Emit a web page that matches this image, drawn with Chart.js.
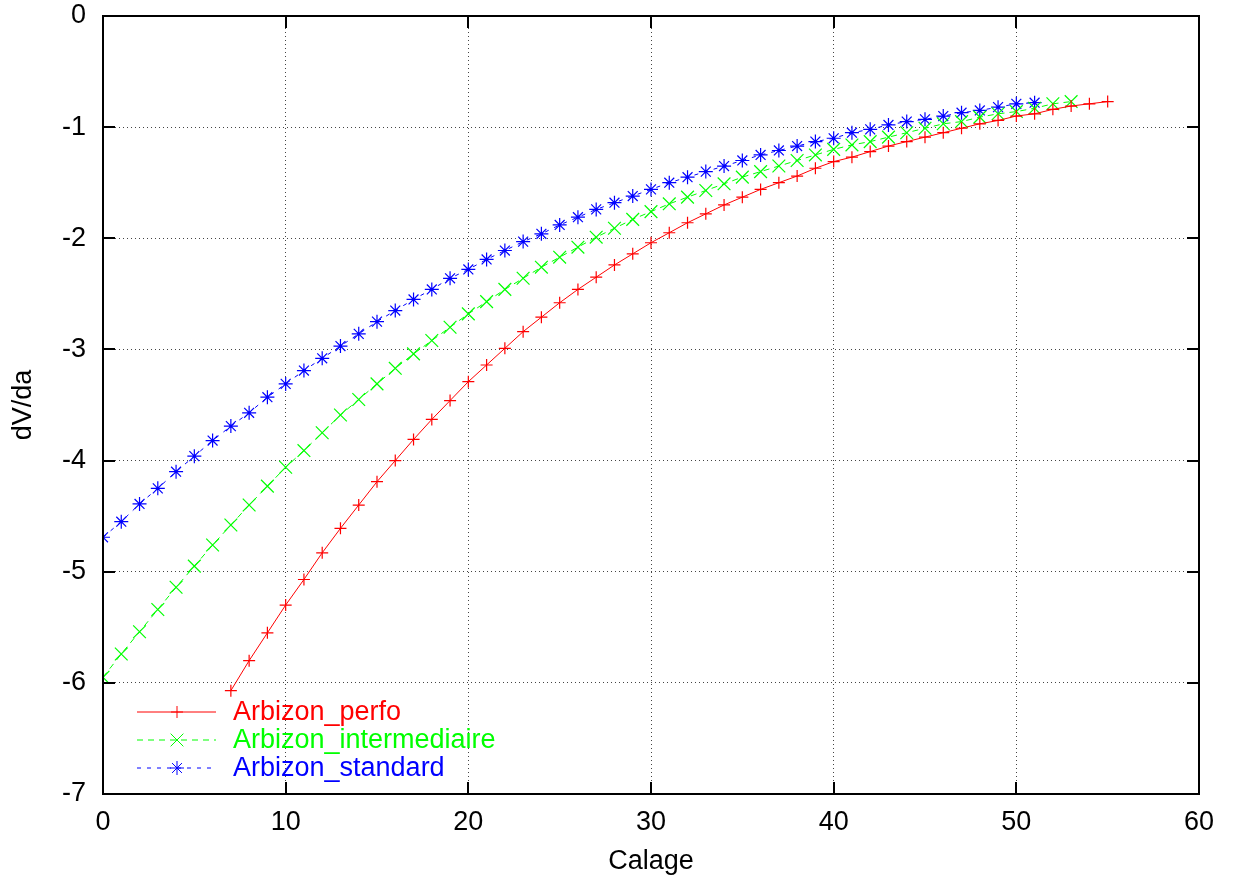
<!DOCTYPE html>
<html>
<head>
<meta charset="utf-8">
<title>dV/da</title>
<script src="https://cdn.jsdelivr.net/npm/chart.js@4/dist/chart.umd.min.js"></script>
<style>
  html, body { margin: 0; padding: 0; background: #fff; }
  canvas { display: block; }
</style>
</head>
<body>
<canvas id="chart" width="1236" height="885"></canvas>
<script>
// Calage values (x) shared by the three curves
const calage = [0, 1, 2, 3, 4, 5, 6, 7, 8, 9, 10, 11, 12, 13, 14, 15, 16, 17, 18, 19,
    20, 21, 22, 23, 24, 25, 26, 27, 28, 29, 30, 31, 32, 33, 34, 35, 36, 37, 38, 39,
    40, 41, 42, 43, 44, 45, 46, 47, 48, 49, 50, 51, 52, 53, 54, 55];

// dV/da per calage, null where the curve has no point
const perfo = [null, null, null, null, null, null, null,
    -6.07, -5.80, -5.55, -5.30, -5.07, -4.83, -4.61, -4.40, -4.19, -4.00,
    -3.81, -3.63, -3.46, -3.29, -3.14, -2.99, -2.84, -2.71, -2.58, -2.46,
    -2.35, -2.24, -2.14, -2.04, -1.95, -1.86, -1.78, -1.70, -1.63, -1.56,
    -1.50, -1.44, -1.37, -1.31, -1.27, -1.22, -1.17, -1.13, -1.09, -1.05,
    -1.01, -0.97, -0.94, -0.90, -0.88, -0.84, -0.81, -0.79, -0.77];

const intermediaire = [-5.95, -5.74, -5.54, -5.34, -5.14, -4.95, -4.76, -4.58, -4.40, -4.23,
    -4.06, -3.91, -3.75, -3.59, -3.45, -3.31, -3.17, -3.04, -2.92, -2.80,
    -2.68, -2.57, -2.46, -2.36, -2.26, -2.17, -2.08, -1.99, -1.91, -1.83,
    -1.76, -1.69, -1.63, -1.57, -1.51, -1.45, -1.40, -1.35, -1.30, -1.25,
    -1.20, -1.16, -1.13, -1.09, -1.05, -1.01, -0.97, -0.95, -0.91, -0.88,
    -0.86, -0.83, -0.79, -0.77, null, null];

const standard = [-4.69, -4.55, -4.39, -4.25, -4.10, -3.96, -3.82, -3.69, -3.57, -3.43,
    -3.31, -3.19, -3.08, -2.97, -2.86, -2.75, -2.65, -2.55, -2.46, -2.36,
    -2.28, -2.19, -2.11, -2.03, -1.96, -1.88, -1.81, -1.74, -1.68, -1.62,
    -1.56, -1.50, -1.45, -1.40, -1.35, -1.30, -1.25, -1.21, -1.17, -1.13,
    -1.10, -1.05, -1.02, -0.98, -0.95, -0.93, -0.90, -0.87, -0.85, -0.82,
    -0.79, -0.78, null, null, null, null];

const xTicks = [0, 10, 20, 30, 40, 50, 60];
const yTicks = [0, -1, -2, -3, -4, -5, -6, -7];

const FONT = 'Liberation Sans, Arial, Helvetica, sans-serif';

function points(values) {
    const out = [];
    values.forEach((v, i) => {
        if (v !== null) out.push({ x: calage[i], y: v });
    });
    return out;
}

const series = [
    { label: 'Arbizon_perfo', data: perfo, color: '#ff0000', style: 'cross', radius: 6, dash: [] },
    { label: 'Arbizon_intermediaire', data: intermediaire, color: '#00ff00', style: 'crossRot', radius: 9, dash: [6, 5] },
    { label: 'Arbizon_standard', data: standard, color: '#0000ff', style: 'star', radius: 7, dash: [4, 6] }
];

// gnuplot-like frame with inward ticks, plus the key inside the plot
const framePlugin = {
    id: 'frame',
    afterDraw(chart) {
        const ctx = chart.ctx;
        const area = chart.chartArea;
        const xs = chart.scales.x;
        const ys = chart.scales.y;
        const tick = 12;

        ctx.save();
        ctx.strokeStyle = '#000';
        ctx.lineWidth = 2;
        ctx.setLineDash([]);
        ctx.beginPath();
        xTicks.forEach(v => {
            const px = Math.round(xs.getPixelForValue(v));
            ctx.moveTo(px, area.bottom); ctx.lineTo(px, area.bottom - tick);
            ctx.moveTo(px, area.top); ctx.lineTo(px, area.top + tick);
        });
        yTicks.forEach(v => {
            const py = Math.round(ys.getPixelForValue(v));
            ctx.moveTo(area.left, py); ctx.lineTo(area.left + tick, py);
            ctx.moveTo(area.right, py); ctx.lineTo(area.right - tick, py);
        });
        ctx.stroke();
        ctx.strokeRect(area.left, area.top, area.right - area.left, area.bottom - area.top);

        // key
        const x0 = area.left + 34;
        series.forEach((s, i) => {
            const y = area.bottom - 82 + i * 28;
            ctx.strokeStyle = s.color;
            ctx.lineWidth = 1;
            ctx.setLineDash(s.dash);
            ctx.beginPath();
            ctx.moveTo(x0, y);
            ctx.lineTo(x0 + 79, y);
            ctx.stroke();
            ctx.setLineDash([]);
            Chart.helpers.drawPoint(ctx, {
                pointStyle: s.style, radius: s.radius, borderWidth: 1, rotation: 0
            }, x0 + 40, y);
            ctx.fillStyle = s.color;
            ctx.font = '27px ' + FONT;
            ctx.textAlign = 'left';
            ctx.textBaseline = 'middle';
            ctx.fillText(s.label, x0 + 96, y + 1);
        });
        ctx.restore();
    }
};

new Chart(document.getElementById('chart'), {
    type: 'line',
    data: {
        datasets: series.map(s => ({
            label: s.label,
            data: points(s.data),
            borderColor: s.color,
            backgroundColor: s.color,
            borderWidth: 1,
            borderDash: s.dash,
            pointStyle: s.style,
            pointRadius: s.radius,
            pointBorderWidth: 1.2,
            pointBorderColor: s.color,
            pointHoverRadius: s.radius,
            tension: 0,
            fill: false
        }))
    },
    options: {
        responsive: false,
        animation: false,
        layout: { padding: { top: 16, right: 37, left: 0, bottom: 0 } },
        plugins: {
            legend: { display: false },
            tooltip: { enabled: false }
        },
        scales: {
            x: {
                type: 'linear',
                min: 0,
                max: 60,
                afterBuildTicks: scale => { scale.ticks = xTicks.map(v => ({ value: v })); },
                afterFit: scale => { scale.height = 91; },
                ticks: { color: '#000', padding: 12, maxRotation: 0, font: { family: FONT, size: 27 } },
                grid: { color: '#444', lineWidth: 1, drawTicks: false },
                border: { display: false, dash: [1, 3] },
                title: {
                    display: true, text: 'Calage', color: '#000',
                    font: { family: FONT, size: 27 }, padding: { top: 0, bottom: 7 }
                }
            },
            y: {
                type: 'linear',
                min: -7,
                max: 0,
                afterBuildTicks: scale => { scale.ticks = yTicks.map(v => ({ value: v })); },
                afterFit: scale => {
                    scale.width = 103;
                    scale.paddingTop = 0;
                    scale.paddingBottom = 0;
                },
                ticks: { color: '#000', padding: 17, font: { family: FONT, size: 27 } },
                grid: { color: '#444', lineWidth: 1, drawTicks: false },
                border: { display: false, dash: [1, 3] },
                title: {
                    display: true, text: 'dV/da', color: '#000',
                    font: { family: FONT, size: 27 }, padding: { top: 7, bottom: 0 }
                }
            }
        }
    },
    plugins: [framePlugin]
});
</script>
</body>
</html>
